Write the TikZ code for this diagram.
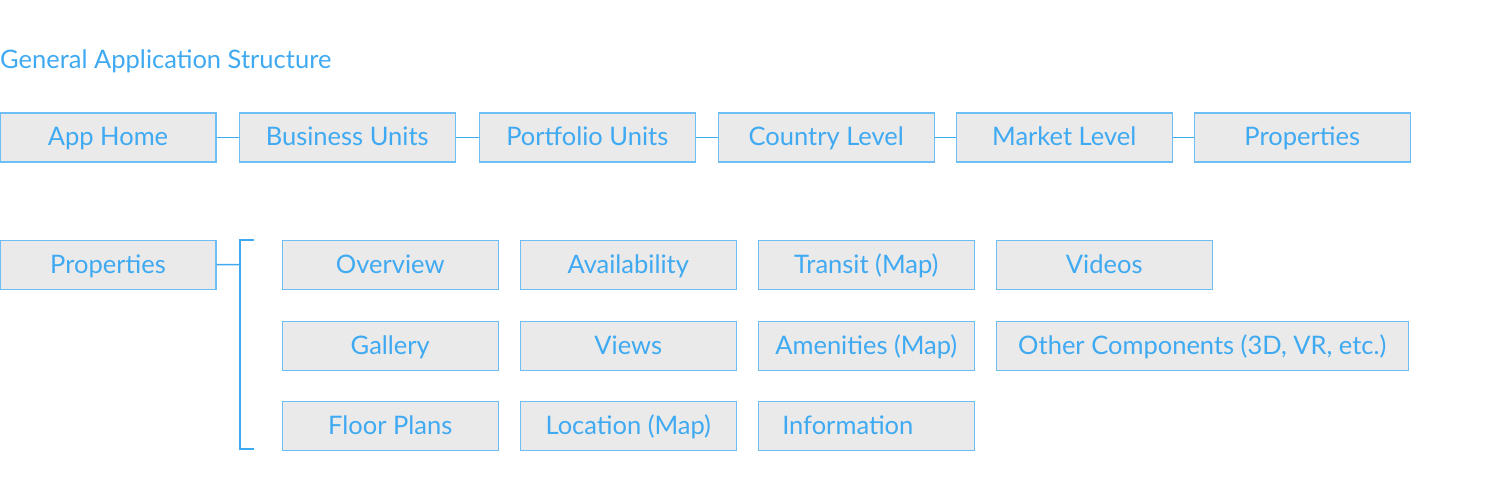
\documentclass[tikz,border=0pt]{standalone}
\usepackage{fontspec}
\setmainfont{Lato}
\definecolor{appblue}{HTML}{3FAAF2}
\definecolor{boxgrey}{HTML}{EAEAEA}
\definecolor{boxline}{HTML}{6CBEF5}

\begin{document}
\begin{tikzpicture}[x=1pt,y=-1pt,
	every node/.style={text=appblue,font=\fontsize{25.5}{30}\selectfont},
	unitbox/.style={draw=boxline,fill=boxgrey,line width=1.5pt,minimum width=216pt,minimum height=49pt,inner sep=0pt,text height=19pt,text depth=2.5pt,anchor=north west},
	link/.style={draw=appblue,line width=1.5pt}]
	\useasboundingbox (0,0) rectangle (1500,500);

%	top row: the drill-down path
	\node[anchor=west,inner sep=0pt] (title) at (0,61) {General Application Structure};
	\node[unitbox] (home)    at (-0.75,112.5)  {App Home};
	\node[unitbox] (bunits)  at (238.5,112.5)  {Business Units};
	\node[unitbox] (punits)  at (478.5,112.5)  {Portfolio Units};
	\node[unitbox] (country) at (717.5,112.5)  {Country Level};
	\node[unitbox] (market)  at (955.5,112.5)  {Market Level};
	\node[unitbox] (props)   at (1193.5,112.5) {Properties};

	\draw[link] (home) -- (bunits);
	\draw[link] (bunits) -- (punits);
	\draw[link] (punits) -- (country);
	\draw[link] (country) -- (market);
	\draw[link] (market) -- (props);

%	second part: what a property page holds
	\coordinate (brtop)  at (254,240);
	\coordinate (brbot)  at (254,449);
	\coordinate (brjoin) at (240,264.5);

	\node[unitbox] (propsub) at (-0.75,239.5) {Properties};

	\node[unitbox] (overview) at (281.5,239.5) {Overview};
	\node[unitbox] (avail)    at (519.5,239.5) {Availability};
	\node[unitbox] (transit)  at (757.5,239.5) {Transit (Map)};
	\node[unitbox] (videos)   at (995.5,239.5) {Videos};

	\node[unitbox] (gallery)  at (281.5,320.5) {Gallery};
	\node[unitbox] (views)    at (519.5,320.5) {Views};
	\node[unitbox] (amenity)  at (757.5,320.5) {Amenities (Map)};
	\node[unitbox,minimum width=412pt] (other) at (995.5,320.5) {Other Components (3D, VR, etc.)};

	\node[unitbox] (floor)    at (281.5,400.5) {Floor Plans};
	\node[unitbox] (location) at (519.5,400.5) {Location (Map)};
	\node[unitbox,text width=168pt,inner xsep=24pt,align=left] (info) at (757.5,400.5) {Information};

	\draw[link] (propsub) -- (brjoin);
	\draw[link] (brtop) -- ++(-14,0) -- ++(0,209) -- (brbot);
\end{tikzpicture}
\end{document}
